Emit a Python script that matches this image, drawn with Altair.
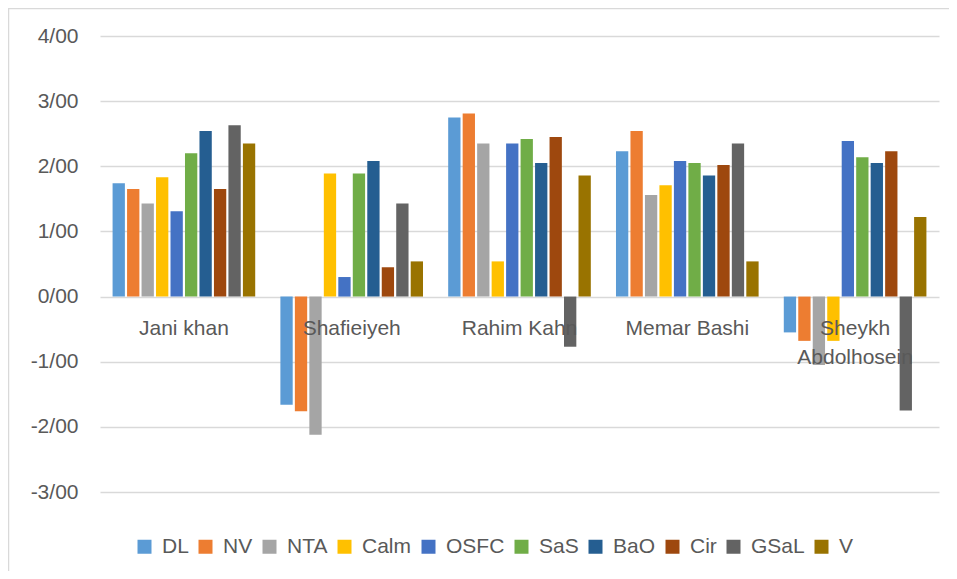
import altair as alt
import pandas as pd

categories = ["Jani khan", "Shafieiyeh", "Rahim Kahn", "Memar Bashi", "Sheykh\nAbdolhosein"]
series = ["DL", "NV", "NTA", "Calm", "OSFC", "SaS", "BaO", "Cir", "GSaL", "V"]
colors = ["#5B9BD5", "#ED7D31", "#A5A5A5", "#FFC000", "#4472C4",
          "#70AD47", "#255E91", "#9E480E", "#636363", "#997300"]

DL = [1.74, -1.66, 2.75, 2.23, -0.55]
NV = [1.65, -1.76, 2.81, 2.54, -0.68]
NTA = [1.43, -2.12, 2.35, 1.56, -1.05]
Calm = [1.83, 1.89, 0.54, 1.71, -0.68]
OSFC = [1.31, 0.30, 2.35, 2.08, 2.39]
SaS = [2.20, 1.89, 2.42, 2.05, 2.14]
BaO = [2.54, 2.08, 2.05, 1.86, 2.05]
Cir = [1.65, 0.45, 2.45, 2.02, 2.23]
GSaL = [2.63, 1.43, -0.77, 2.35, -1.75]
V = [2.35, 0.54, 1.86, 0.54, 1.22]

values = [DL, NV, NTA, Calm, OSFC, SaS, BaO, Cir, GSaL, V]
rows = []
for s, vals in zip(series, values):
    for c, v in zip(categories, vals):
        rows.append({"Category": c, "Series": s, "Value": v})
df = pd.DataFrame(rows)
labels_df = pd.DataFrame({"Category": categories})

FONT = "Liberation Sans"
GRAY = "#595959"

x_scale = alt.Scale(domain=categories, paddingInner=0.15, paddingOuter=0.075)
y_scale = alt.Scale(domain=[-3, 4], nice=False, zero=False)

bars = alt.Chart(df).mark_bar().encode(
    x=alt.X("Category:N", scale=x_scale, axis=None),
    xOffset=alt.XOffset("Series:N", sort=series,
                        scale=alt.Scale(domain=series, paddingInner=0.15, paddingOuter=0)),
    y=alt.Y("Value:Q", scale=y_scale, title=None,
            axis=alt.Axis(values=[-3, -2, -1, 0, 1, 2, 3, 4],
                          labelExpr="(datum.value < 0 ? '-' : '') + abs(datum.value) + '/00'",
                          grid=True, gridColor="#d9d9d9", gridWidth=1.3,
                          domain=False, ticks=False, labelPadding=22,
                          labelFontSize=21, labelColor=GRAY, labelFont=FONT)),
    color=alt.Color("Series:N", sort=series,
                    scale=alt.Scale(domain=series, range=colors),
                    legend=alt.Legend(title=None, orient="none", legendX=34, legendY=500,
                                      direction="horizontal", columns=10,
                                      symbolType="square", symbolSize=196,
                                      symbolStrokeWidth=0, labelFontSize=21,
                                      labelColor=GRAY, labelFont=FONT,
                                      labelOffset=7, columnPadding=6)),
)

text = alt.Chart(labels_df).mark_text(
    baseline="alphabetic", align="center", dy=38, fontSize=21, color=GRAY,
    font=FONT, lineBreak="\n", lineHeight=29
).encode(
    x=alt.X("Category:N", scale=x_scale, axis=None),
    y=alt.datum(0),
    text="Category:N",
)

border = alt.Chart(pd.DataFrame({"a": [0]})).mark_rect(
    fillOpacity=0, stroke="#d9d9d9", strokeWidth=1.5
).encode(
    x=alt.value(-91.5), x2=alt.value(900), y=alt.value(-27.5), y2=alt.value(600)
)

chart = alt.layer(bars, text, border).properties(
    width=839, height=456,
    autosize=alt.AutoSizeParams(type="none"),
    padding={"left": 92, "top": 28, "right": 10, "bottom": 79},
    background="white",
).configure_view(stroke=None)

chart.save("out.html", embed_options={"renderer": "svg", "actions": False})
